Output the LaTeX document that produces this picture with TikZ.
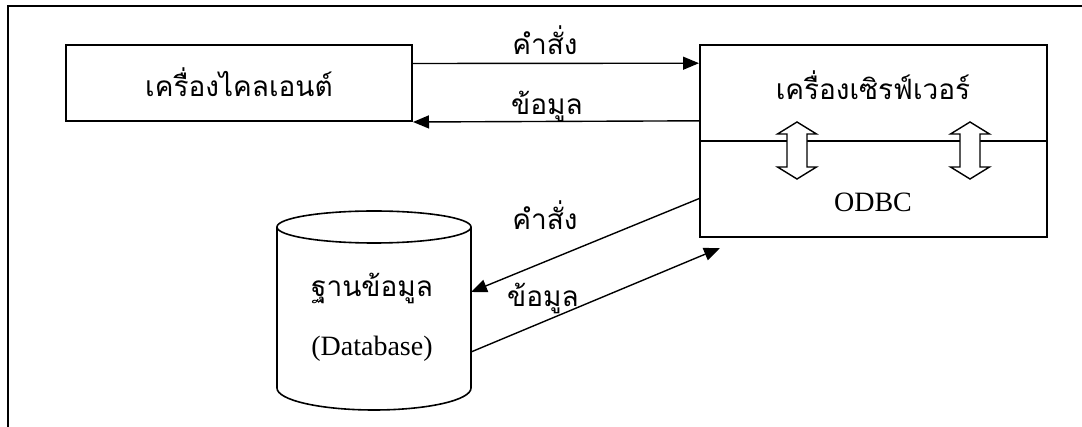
\documentclass[tikz,border=0pt]{standalone}
\usepackage{fontspec}
\setmainfont{Liberation Serif}
\newfontfamily\thaifont[Script=Thai]{Loma}
\usetikzlibrary{arrows.meta,calc}

\begin{document}
\begin{tikzpicture}[x=1pt,y=-1pt,
  frame/.style={line width=2pt},
  box/.style={draw, line width=2pt, rectangle, inner sep=0pt},
  link/.style={line width=1.4pt, -{Triangle[length=16pt,width=13pt]}},
  thailabel/.style={font=\thaifont\fontsize{28}{34}\selectfont, inner sep=0pt, anchor=base},
  latinlabel/.style={font=\fontsize{28}{34}\selectfont, inner sep=0pt, anchor=base},
  dblarrow/.style={draw, line width=1.4pt, fill=white, line join=miter},
  dbshape/.style={draw, line width=1.6pt, fill=white}]
\useasboundingbox (0,0) rectangle (1082,427);

% page frame (only top and left edges fall inside the picture)
\draw[frame] (8,427) -- (8,6) -- (1082,6);

% client machine
\node[box, minimum width=346pt, minimum height=76pt] (client) at (239,83) {};
\node[thailabel] (clientlbl) at (239,97) {เครื่องไคลเอนต์};

% server machine with ODBC layer
\node[box, minimum width=347pt, minimum height=192pt] (server) at (873.5,141) {};
\draw[line width=1.6pt] (server.west) -- (server.east);
\node[thailabel] (serverlbl) at (873,100) {เครื่องเซิรฟ์เวอร์};
\node[latinlabel] (odbc) at (873,212) {ODBC};

% two-way arrows between server and ODBC
\foreach \c in {797,970}{
  \draw[dblarrow] (\c,122) -- (\c+19.5,134) -- (\c+10,134) -- (\c+10,167)
    -- (\c+19.5,167) -- (\c,179) -- (\c-19.5,167) -- (\c-10,167)
    -- (\c-10,134) -- (\c-19.5,134) -- cycle;
}

% database cylinder
\draw[dbshape] (277,227) -- (277,388) arc[start angle=180, end angle=0, x radius=97, y radius=22]
  -- (471,227);
\draw[dbshape] (374,227) ellipse[x radius=97, y radius=16];
\node[thailabel] (dbth) at (372,297) {ฐานข้อมูล};
\node[latinlabel] (dben) at (372,356) {(Database)};
\coordinate (dbIn) at (471,292);
\coordinate (dbOut) at (471,352);
\coordinate (srvIn) at (720,248);

% client <-> server
\draw[link] ($(client.north east)!0.25!(client.south east)$) -- ($(server.north west)!0.099!(server.south west)$);
\draw[link] ($(server.north west)!0.396!(server.south west)$) -- (client.south east);
\node[thailabel] (cmd1) at (545,55) {คำสั่ง};
\node[thailabel] (data1) at (547,115) {ข้อมูล};

% server <-> database
\draw[link] ($(server.north west)!0.797!(server.south west)$) -- (dbIn);
\draw[link] (dbOut) -- (srvIn);
\node[thailabel] (cmd2) at (545,230) {คำสั่ง};
\node[thailabel] (data2) at (543,307) {ข้อมูล};
\end{tikzpicture}
\end{document}
